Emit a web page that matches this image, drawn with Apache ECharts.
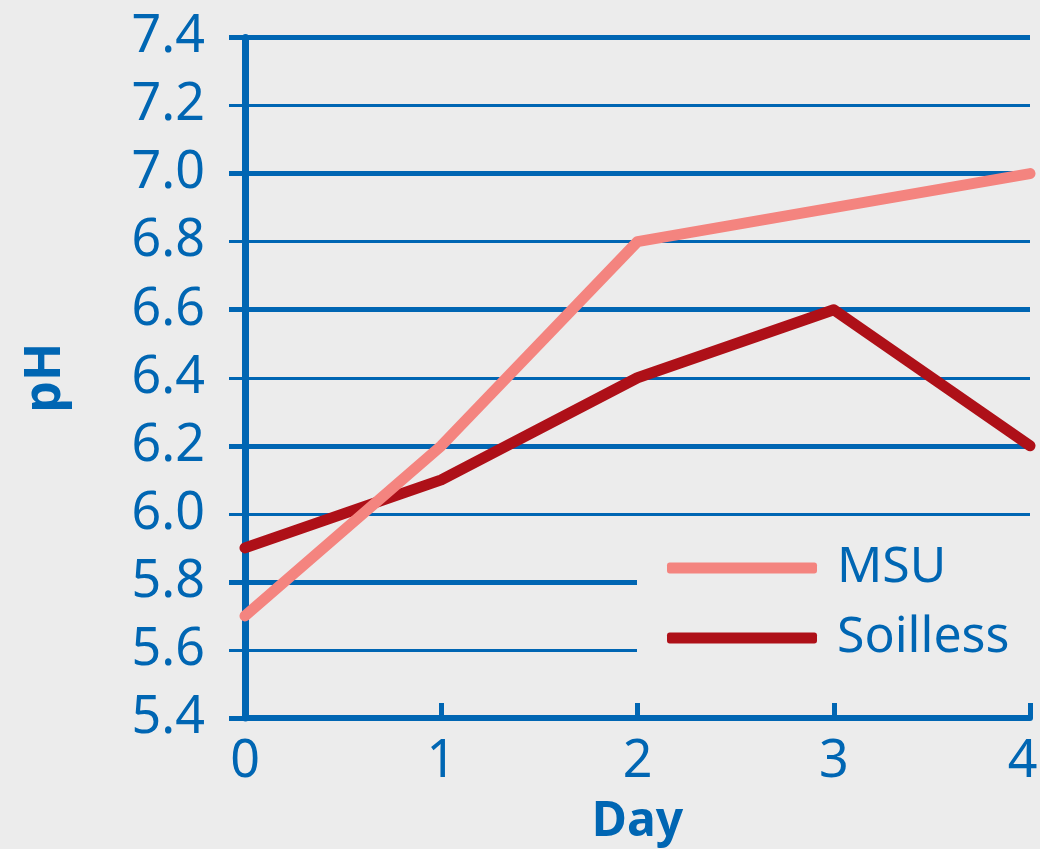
<!DOCTYPE html>
<html>
<head>
<meta charset="utf-8">
<script src="https://cdn.jsdelivr.net/npm/echarts@6/dist/echarts.min.js"></script>
<style>
html,body{margin:0;padding:0;background:#ececec;overflow:hidden;}
#chart{width:1040px;height:849px;}
</style>
</head>
<body>
<div id="chart"></div>
<script>
const days = [0, 1, 2, 3, 4];
const msu = [5.7, 6.2, 6.8, 6.9, 7.0];
const soilless = [5.9, 6.1, 6.4, 6.6, 6.2];
const seriesNames = ['MSU', 'Soilless'];

const blue = '#0066b3';
const font = 'Noto Sans';

const chart = echarts.init(document.getElementById('chart'));
chart.setOption({
  backgroundColor: '#ececec',
  animation: false,
  grid: { left: 245, right: 10, top: 37.5, bottom: 131, containLabel: false, outerBoundsMode: 'none' },
  legend: {
    data: seriesNames,
    orient: 'vertical',
    left: 637,
    top: 529,
    padding: [10, 30, 10, 30],
    backgroundColor: '#ececec',
    itemWidth: 150,
    itemHeight: 11,
    itemGap: 12,
    icon: 'roundRect',
    textStyle: { color: blue, fontSize: 50, lineHeight: 58, fontFamily: font, padding: [0, 0, 0, 15] },
    z: 10
  },
  xAxis: {
    type: 'value',
    min: 0, max: 4, interval: 1,
    name: 'Day',
    nameLocation: 'middle',
    nameGap: 80,
    nameTextStyle: { color: blue, fontSize: 48, fontWeight: 'bold', fontFamily: font },
    axisLine: { show: true, lineStyle: { color: blue, width: 6 } },
    axisTick: { show: true, inside: true, length: 15, lineStyle: { color: blue, width: 5 } },
    axisLabel: {
      color: blue, fontSize: 52, fontFamily: font, margin: 18,
      formatter: v => (v === 4 ? '{n|4}{s|}' : String(v)),
      rich: {
        n: { color: blue, fontSize: 52, fontFamily: font },
        s: { width: 15 }
      }
    },
    splitLine: { show: false }
  },
  yAxis: [
    {
      type: 'value',
      min: 5.4, max: 7.4, interval: 0.4,
      axisLine: { show: true, lineStyle: { color: blue, width: 7 } },
      axisTick: { show: true, length: 16, lineStyle: { color: blue, width: 5 } },
      axisLabel: { show: false },
      splitLine: { show: true, lineStyle: { color: blue, width: 5 } },
      z: 1
    },
    {
      type: 'value',
      position: 'left',
      min: 5.4, max: 7.4, interval: 0.2,
      name: 'pH',
      nameLocation: 'middle',
      nameGap: 174,
      nameRotate: 90,
      nameTextStyle: { color: blue, fontSize: 50, fontWeight: 'bold', fontFamily: font },
      axisLine: { show: false },
      axisTick: { show: true, length: 16, lineStyle: { color: blue, width: 3 } },
      axisLabel: {
        color: blue, fontSize: 52, fontFamily: font, margin: 40,
        padding: [0, 0, 8, 0],
        formatter: v => v.toFixed(1)
      },
      splitLine: { show: true, lineStyle: { color: blue, width: 3 } },
      z: 0
    }
  ],
  series: [
    {
      name: 'Soilless',
      type: 'line',
      yAxisIndex: 0,
      data: days.map((d, i) => [d, soilless[i]]),
      showSymbol: false,
      symbol: 'none',
      lineStyle: { color: '#ae1018', width: 11, cap: 'round', join: 'round' },
      itemStyle: { color: '#ae1018' },
      z: 3
    },
    {
      name: 'MSU',
      type: 'line',
      yAxisIndex: 0,
      data: days.map((d, i) => [d, msu[i]]),
      showSymbol: false,
      symbol: 'none',
      lineStyle: { color: '#f4847f', width: 11, cap: 'round', join: 'round' },
      itemStyle: { color: '#f4847f' },
      z: 4
    }
  ]
});
</script>
</body>
</html>
